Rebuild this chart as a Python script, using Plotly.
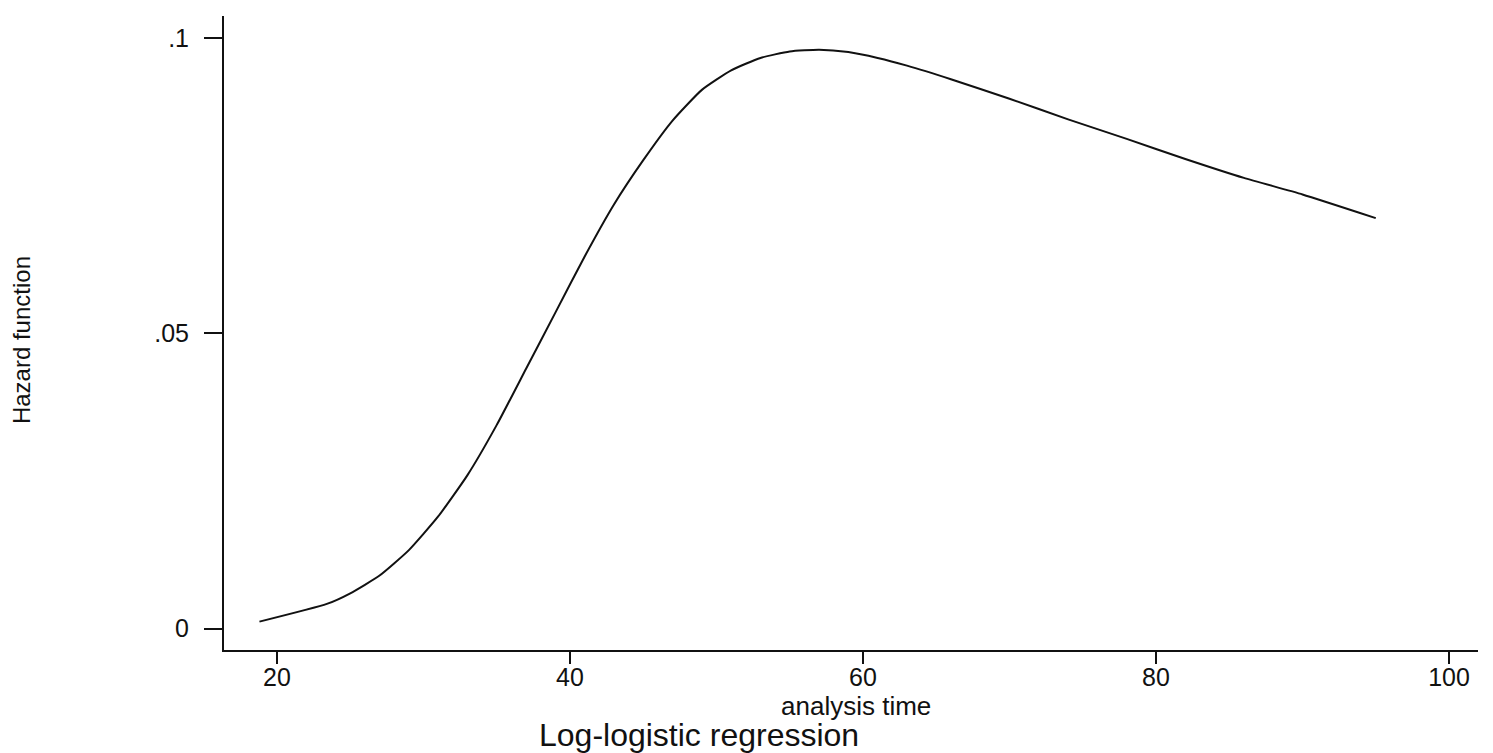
import plotly.graph_objects as go

# Estimated log-logistic hazard over analysis time
analysis_time = [18.8, 23.4, 25.0, 27.0, 29.0, 31.0, 33.0, 35.0, 37.0, 39.0, 41.0,
                 43.0, 45.0, 47.0, 49.0, 51.0, 53.0, 55.0, 57.0, 59.0, 61.0, 63.0,
                 66.0, 70.0, 74.0, 78.0, 82.0, 86.0, 90.0, 95.0]
hazard = [0.0012, 0.0042, 0.0060, 0.0090, 0.0133, 0.0190, 0.0260, 0.0345, 0.0440,
          0.0535, 0.0630, 0.0718, 0.0793, 0.0860, 0.0912, 0.0945, 0.0966, 0.0977,
          0.0980, 0.0976, 0.0966, 0.0953, 0.0930, 0.0897, 0.0862, 0.0829, 0.0795,
          0.0763, 0.0735, 0.0695]

x_ticks = [20, 40, 60, 80, 100]
y_ticks = [0, 0.05, 0.1]
y_tick_text = ["0", ".05", ".1"]

x_title = "analysis time"
y_title = "Hazard function"
caption = "Log-logistic regression"

ink = "#111111"
font_family = "Liberation Sans, Arial, Helvetica, sans-serif"

fig = go.Figure()
fig.add_trace(go.Scatter(
    x=analysis_time, y=hazard, mode="lines",
    line=dict(color=ink, width=2, shape="spline", smoothing=0.5),
    showlegend=False, hoverinfo="skip",
))

fig.update_layout(
    width=1493, height=753,
    margin=dict(l=224, r=15, t=16, b=103),
    paper_bgcolor="white", plot_bgcolor="white",
    font=dict(family=font_family, color=ink, size=25),
    xaxis=dict(
        range=[16.38, 101.98], tickvals=x_ticks,
        showgrid=False, zeroline=False,
        showline=True, linecolor=ink, linewidth=2,
        ticks="outside", ticklen=12, tickwidth=2, tickcolor=ink,
        tickfont=dict(size=25, color=ink), ticklabelstandoff=-8,
    ),
    yaxis=dict(
        range=[-0.0036, 0.1037], tickvals=y_ticks, ticktext=y_tick_text,
        showgrid=False, zeroline=False,
        showline=True, linecolor=ink, linewidth=2,
        ticks="outside", ticklen=18, tickwidth=2, tickcolor=ink,
        tickfont=dict(size=25, color=ink), ticklabelstandoff=10,
    ),
    annotations=[
        dict(text=x_title, xref="paper", yref="paper", x=0.504, y=-0.089,
             xanchor="center", yanchor="middle", showarrow=False,
             font=dict(size=26, color=ink)),
        dict(text=caption, xref="paper", yref="paper", x=0.379, y=-0.134,
             xanchor="center", yanchor="middle", showarrow=False,
             font=dict(size=32, color=ink)),
        dict(text=y_title, xref="paper", yref="paper", x=-0.161, y=0.489,
             xanchor="center", yanchor="middle", showarrow=False, textangle=-90,
             font=dict(size=24, color=ink)),
    ],
)

fig.write_html("out.html")
